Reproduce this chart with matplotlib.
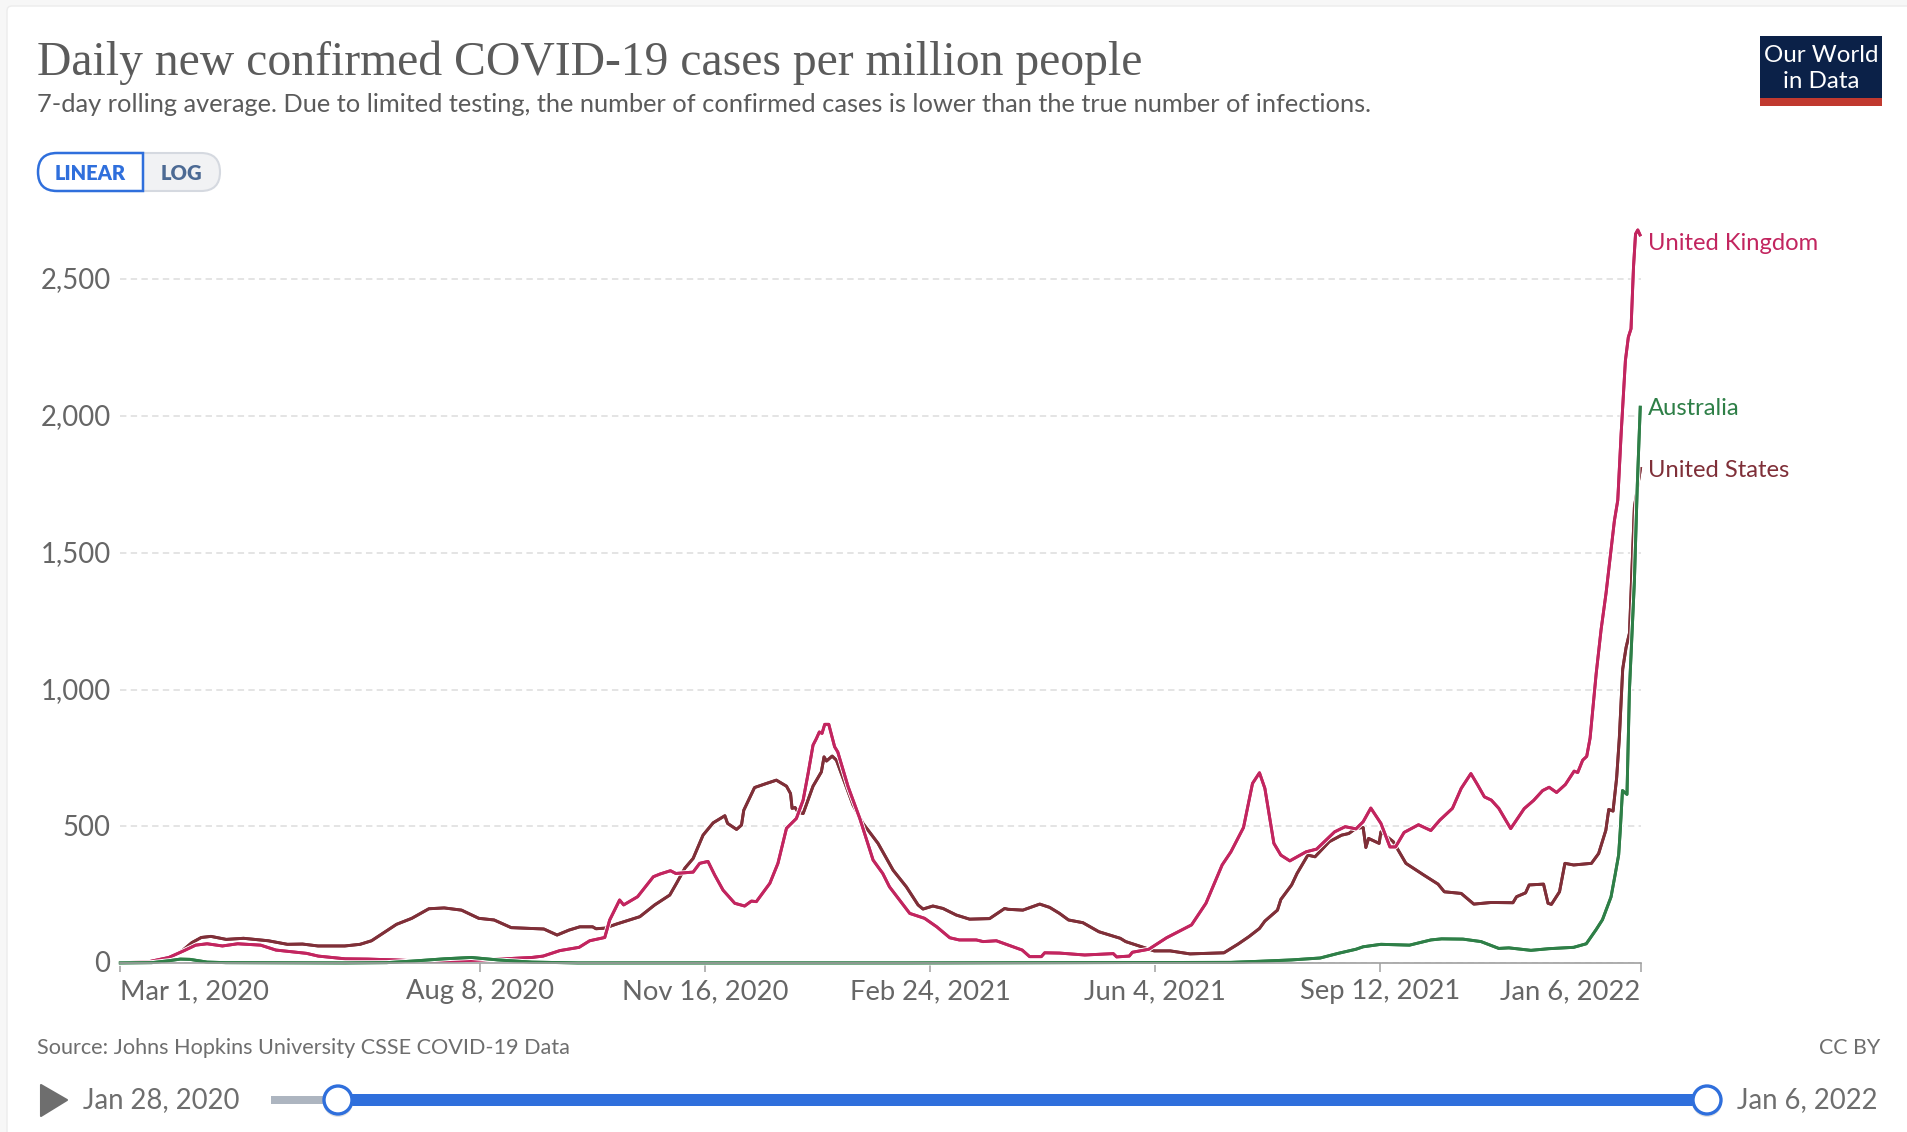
import matplotlib
matplotlib.use("Agg")
import matplotlib.pyplot as plt
import matplotlib.patheffects as pe
from matplotlib.patches import FancyBboxPatch, Rectangle, Circle, Polygon, PathPatch
from matplotlib.path import Path
from matplotlib.transforms import ScaledTranslation
import pandas as pd

plt.rcParams['font.family'] = ['Lato', 'DejaVu Sans']

# days counted from Mar 1, 2020
START = pd.Timestamp("2020-03-01")

uk_days = [0, 13, 21.6, 28.4, 33.5, 38.6, 45.4, 52.2, 62.4, 69.2, 82.8, 88, 100, 110, 122, 135.6, 149, 161, 171, 183, 188,
           195.4, 204, 208.7, 215.4, 217.6, 222, 223.8, 230, 237, 240, 244.6, 247, 254.7, 257.6, 261.3, 264.3, 268, 273.2,
           277.6, 280.6, 282.8, 288.8, 292.4, 296.2, 300.6, 303.6, 305.8, 308, 309.5, 310.8, 312, 313.2, 315, 317.6, 319, 323.6, 328.8,
           334.7, 339, 342, 351, 357.6, 363, 368.8, 373, 380.6, 383.6, 389.5, 401, 404.3, 409.5, 411, 417.6, 428.8, 441.5,
           443, 448.6, 450, 457.3, 465.2, 476.3, 482.7, 489.9, 493.8, 499.4, 503.4, 506.5, 508.9, 512.9, 516, 520, 527.2,
           531.9, 539.9, 544.6, 549.4, 552.6, 556, 560.5, 564.5, 567, 570.8, 577.2, 582.7, 586.7, 592.3, 596.2, 600.5,
           603.4, 606.5, 609.6, 612.9, 618.2, 624.2, 628.4, 632.4, 635.3, 638.6, 642.5, 646.4, 648, 650.2, 652, 653.5,
           656.2, 658.4, 660.6, 664.3, 665.8, 667.3, 669.2, 670.5, 671.7, 672.8, 673.7, 674.7, 675.7]
uk_vals = [1, 6, 21, 46, 66, 71, 63, 71, 66, 48, 36, 26, 16, 15, 12, 7, 8, 12, 16, 21, 26,
           46, 58, 82, 94, 158, 231, 213, 243, 316, 326, 338, 328, 333, 365, 372, 322, 267, 219,
           209, 227, 225, 292, 365, 493, 529, 596, 693, 797, 821, 845, 840, 873, 873, 791, 772, 645, 529,
           377, 328, 279, 182, 164, 133, 93, 85, 85, 79, 82, 48, 24, 24, 38, 37, 30, 35,
           23, 26, 40, 51, 93, 140, 219, 359, 407, 496, 657, 696, 639, 438, 395, 374, 407,
           417, 480, 499, 491, 517, 567, 511, 425, 425, 478, 506, 485, 523, 566, 639, 693,
           653, 608, 596, 566, 492, 565, 595, 631, 643, 624, 653, 702, 697, 742, 756, 823,
           1058, 1220, 1353, 1617, 1692, 1935, 2203, 2288, 2319, 2544, 2665, 2680, 2662]

us_days = [0, 13, 21.6, 27.6, 31.8, 36, 40.3, 47.1, 54.8, 65.8, 74.3, 81, 87.9, 99.8, 106.6, 111.7, 122.8, 129.6, 137.2,
           144, 151.7, 159.4, 166.2, 173.8, 188.3, 194.2, 199.5, 204.3, 210, 211.5, 215.4, 220.6, 231, 237.6, 244.3, 247.3,
           251, 254.7, 259.1, 263.6, 268.8, 270, 274, 276.2, 277.2, 282, 287.3, 291.7, 296.2, 298, 298.7, 300, 301.3, 303.6,
           308, 311.7, 312.9, 314, 316.5, 318.4, 325.8, 330.2, 336.9, 343.6, 349.5, 354.7, 356.9, 361.3, 365.8, 371.7,
           377.6, 386.5, 393.2, 394.7, 401.3, 408.8, 413.2, 417.6, 421.6, 428, 435.1, 444.6, 447, 454.1, 459.7, 466.8,
           475.6, 490.7, 497, 501.8, 506.5, 508.9, 514.5, 516, 520.8, 523.2, 528, 531.2, 537.5, 543, 546.2, 549.4, 552.6,
           553.8, 555, 559.7, 560.5, 566, 571.6, 579.6, 585.9, 588.7, 596.2, 601.8, 609.6, 619.2, 620.8, 624.8, 626.4,
           632.8, 634.8, 636.3, 639.9, 642.3, 646.2, 654.1, 657.3, 660.5, 661.8, 663.7, 665.3, 666.5, 668, 669.5, 671,
           672.4, 673.2, 675.9]
us_vals = [0, 2, 18, 46, 75, 94, 98, 87, 91, 82, 69, 70, 63, 63, 69, 82, 142, 164, 199,
           202, 194, 164, 158, 130, 125, 103, 121, 133, 133, 126, 128, 143, 170, 213, 249, 292,
           347, 383, 468, 513, 539, 511, 489, 505, 559, 642, 657, 669, 647, 620, 566, 569, 553, 547,
           647, 699, 754, 739, 757, 742, 578, 511, 438, 340, 279, 213, 198, 209, 200, 176,
           161, 163, 200, 197, 194, 216, 204, 182, 158, 148, 115, 91, 79, 60, 45, 45,
           34, 38, 70, 97, 127, 154, 194, 233, 286, 328, 395, 389, 444, 468, 474, 493, 496,
           423, 456, 438, 480, 444, 365, 322, 289, 261, 255, 216, 222, 221, 243, 257, 286,
           289, 219, 215, 261, 365, 359, 365, 401, 486, 562, 556, 677, 823, 1075, 1154, 1206,
           1501, 1667, 1808]

aus_days = [0, 14, 21.6, 26.7, 31, 38.6, 47, 100, 118.5, 130.4, 144, 156, 167.9, 183, 203.4, 350, 493.8, 506.5, 520.8,
            533.5, 541.5, 549.4, 552.6, 560.5, 573.2, 582.7, 587.5, 597, 605, 612.9, 617.4, 627.2, 635.1, 646.2, 651.8,
            656.2, 659, 662.8, 664.6, 666.2, 666.9, 667.9, 669.9, 671, 673.2, 674.5, 675.8]
aus_vals = [1, 2, 9, 15, 14, 4, 2, 1, 2, 8, 16, 21, 12, 4, 1, 1, 3, 7, 12,
            19, 36, 51, 60, 69, 66, 85, 89, 88, 79, 54, 56, 47, 53, 58, 71,
            123, 159, 242, 322, 396, 484, 631, 617, 1000, 1397, 1750, 2032]

series_names = ["United States", "United Kingdom", "Australia"]
series_colors = ["#7f2f38", "#c2255f", "#2e7f47"]

y_ticks = [0, 500, 1000, 1500, 2000, 2500]
x_tick_dates = ["2020-03-01", "2020-08-08", "2020-11-16", "2021-02-24", "2021-06-04", "2021-09-12", "2022-01-06"]
x_tick_labels = ["Mar 1, 2020", "Aug 8, 2020", "Nov 16, 2020", "Feb 24, 2021", "Jun 4, 2021", "Sep 12, 2021", "Jan 6, 2022"]

W, H = 1908, 1132
fig = plt.figure(figsize=(W / 100, H / 100), dpi=100, facecolor="#f7f7f7")

# page furniture, drawn in pixel coordinates
ui = fig.add_axes([0, 0, 1, 1], zorder=0)
ui.set_xlim(0, W)
ui.set_ylim(H, 0)
ui.axis("off")

ui.add_patch(FancyBboxPatch((7, 6), W + 40, H + 40, boxstyle="round,pad=0,rounding_size=5", fc="white", ec="#ececec", lw=1))

ui.text(37, 63, "Daily new confirmed COVID-19 cases per million people", family="Liberation Serif",
        fontsize=34.25, color="#5b5b5b", va="center", ha="left")
ui.text(37, 104, "7-day rolling average. Due to limited testing, the number of confirmed cases is lower than the true number of infections.",
        fontsize=18.27, color="#5b5b5b", va="center", ha="left")

# LINEAR / LOG switch
def pill(x0, x1, y0, y1, r, left=True, right=True):
    k = [(x0 + (r if left else 0), y0), (x1 - (r if right else 0), y0)]
    codes = [Path.MOVETO, Path.LINETO]
    verts = list(k)
    if right:
        verts += [(x1, y0), (x1, y0 + r), (x1, y1 - r), (x1, y1), (x1 - r, y1)]
        codes += [Path.CURVE3, Path.CURVE3, Path.LINETO, Path.CURVE3, Path.CURVE3]
    else:
        verts += [(x1, y1)]
        codes += [Path.LINETO]
    verts += [(x0 + (r if left else 0), y1)]
    codes += [Path.LINETO]
    if left:
        verts += [(x0, y1), (x0, y1 - r), (x0, y0 + r), (x0, y0), (x0 + r, y0)]
        codes += [Path.CURVE3, Path.CURVE3, Path.LINETO, Path.CURVE3, Path.CURVE3]
    verts += [verts[0]]
    codes += [Path.CLOSEPOLY]
    return Path(verts, codes)

ui.add_patch(PathPatch(pill(120, 220, 153, 191, 19, left=False), fc="#f1f2f4", ec="#d5d9e0", lw=1.5))
ui.add_patch(PathPatch(pill(38, 143, 153, 191, 19, right=False), fc="white", ec="#2f6fdc", lw=1.8))
ui.text(90, 173, "LINEAR", fontsize=14.5, fontweight="heavy", color="#2f6fdc", ha="center", va="center")
ui.text(181, 173, "LOG", fontsize=14.5, fontweight="heavy", color="#4c6a94", ha="center", va="center")

# logo
ui.add_patch(Rectangle((1760, 36), 122, 70, fc="#0b2148", ec="none"))
ui.add_patch(Rectangle((1760, 98), 122, 8, fc="#c0392f", ec="none"))
ui.text(1821, 55, "Our World", fontsize=17.4, color="white", ha="center", va="center")
ui.text(1821, 81, "in Data", fontsize=17.4, color="white", ha="center", va="center")

# footer
ui.text(37, 1048, "Source: Johns Hopkins University CSSE COVID-19 Data", fontsize=15.6, color="#6e6e6e", ha="left", va="center")
ui.text(1880, 1048, "CC BY", fontsize=15.4, color="#6e6e6e", ha="right", va="center")

ui.add_patch(Polygon([(41, 1085), (67, 1100), (41, 1116)], closed=True, fc="#6e6e6e", ec="#6e6e6e", lw=1.5, joinstyle="round"))
ui.text(83, 1100, "Jan 28, 2020", fontsize=19.8, color="#6e6e6e", ha="left", va="center")
ui.text(1878, 1100, "Jan 6, 2022", fontsize=19.8, color="#6e6e6e", ha="right", va="center")

ui.add_patch(Rectangle((271, 1096), 70, 8, fc="#adb5c0", ec="none"))
ui.add_patch(Rectangle((338, 1094), 1369, 12, fc="#2f6fdc", ec="none"))
for knob_x in [338, 1707]:
    ui.add_patch(Circle((knob_x, 1102), 15, fc="#c9c9c9", ec="none", alpha=0.5))
    ui.add_patch(Circle((knob_x, 1100), 14, fc="white", ec="#2f6fdc", lw=2.4))

# chart
left, right, base = 120.3, 1640.7, 963.2
px_per_case = 0.2736
y_max = 2750
ax = fig.add_axes([left / W, (H - base) / H, (right - left) / W, y_max * px_per_case / H], zorder=1)
ax.patch.set_alpha(0)

x_ticks = [(pd.Timestamp(d) - START).days for d in x_tick_dates]
ax.set_xlim(0, x_ticks[-1])
ax.set_ylim(0, y_max)

for days, vals, color in zip([us_days, uk_days, aus_days], [us_vals, uk_vals, aus_vals], series_colors):
    ax.plot(days, vals, color=color, lw=2.1, clip_on=False, solid_joinstyle="round",
            path_effects=[pe.withStroke(linewidth=3.6, foreground="white"), pe.Normal()])

for s in ["top", "left", "right"]:
    ax.spines[s].set_visible(False)
ax.spines["bottom"].set_color("#a0a0a0")
ax.spines["bottom"].set_linewidth(1.2)

ax.set_yticks(y_ticks)
ax.set_yticklabels([f"{v:,}" for v in y_ticks], fontsize=19.8, color="#666666")
ax.tick_params(axis="y", length=0, pad=7)
ax.yaxis.grid(True, color="#dddddd", lw=1.1, linestyle=(0, (4.2, 2.8)))
ax.set_axisbelow(True)
for lab in ax.get_yticklabels():
    lab.set_transform(lab.get_transform() + ScaledTranslation(0, 1.3 / 100, fig.dpi_scale_trans))

ax.set_xticks(x_ticks)
ax.set_xticklabels(x_tick_labels, fontsize=19.7, color="#666666")
ax.tick_params(axis="x", length=6.5, width=1.1, color="#a0a0a0", pad=5)
labels = ax.get_xticklabels()
labels[0].set_ha("left")
labels[-1].set_ha("right")

# series labels sit right of the plot, pushed apart so they do not overlap
label_y = {"United Kingdom": 2629, "Australia": 2029, "United States": 1802}
for name, color in zip(series_names, series_colors):
    ax.annotate(name, xy=(x_ticks[-1], label_y[name]), xytext=(5.5, 0), textcoords="offset points",
                fontsize=17.1, color=color, va="center", ha="left", annotation_clip=False)

fig.savefig("out.png", dpi=100, facecolor=fig.get_facecolor())
